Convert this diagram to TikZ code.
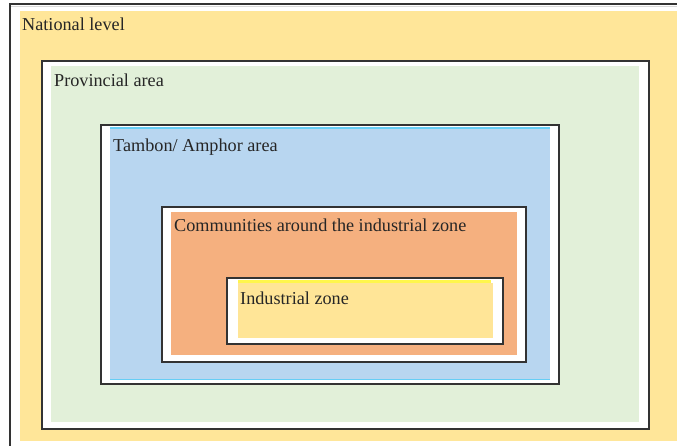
\documentclass[tikz,border=0pt]{standalone}
\usepackage{fontspec}
\setmainfont{Liberation Serif}
\definecolor{natfill}{HTML}{FFE699}
\definecolor{provfill}{HTML}{E2F0D9}
\definecolor{tambfill}{HTML}{B8D6F0}
\definecolor{commfill}{HTML}{F5B07F}
\definecolor{indfill}{HTML}{FFE597}
\definecolor{frameline}{HTML}{333333}
\tikzset{
  areaframe/.style={draw=frameline, line width=1.3pt, fill=white},
  arealabel/.style={anchor=base west, inner sep=0pt, font=\fontsize{18.2}{21}\selectfont, text=black!85},
}
\begin{document}
\begin{tikzpicture}[x=1pt, y=-1pt]
  \useasboundingbox (0,0) rectangle (677,446);
  \fill[white] (0,0) rectangle (677,446);

  % national level: open frame running off the right and bottom edges
  \draw[frameline, line width=1.3pt] (10,446) -- (10,4) -- (677,4);
  \draw[black!15, line width=0.8pt] (11,6.3) -- (677,6.3);
  \fill[natfill] (20,11) rectangle (677,441);
  \node[arealabel] (national) at (22,31) {National level};

  % provincial area
  \draw[areaframe] (42,61) rectangle (649,429);
  \fill[provfill] (51,66) rectangle (639,422);
  \node[arealabel] (provincial) at (54,87) {Provincial area};

  % tambon / amphor area
  \draw[areaframe] (101,125) rectangle (559,384);
  \fill[cyan!60] (110,127.5) rectangle (550,380);
  \fill[tambfill] (110,129) rectangle (550,378.5);
  \node[arealabel] (tambon) at (113,152) {Tambon/ Amphor area};

  % communities around the industrial zone
  \draw[areaframe] (162,207) rectangle (526,362);
  \fill[commfill] (171,212) rectangle (517,355);
  \node[arealabel] (communities) at (174,232) {Communities around the industrial zone};

  % industrial zone
  \draw[areaframe] (227,278) rectangle (503,344);
  \fill[yellow!70] (238,280.5) rectangle (491,283);
  \fill[indfill] (238,283) rectangle (493,338);
  \node[arealabel] (industrial) at (240,304) {Industrial zone};
\end{tikzpicture}
\end{document}
